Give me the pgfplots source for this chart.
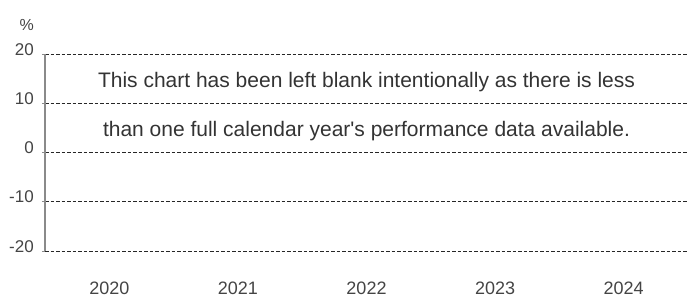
\documentclass[border=0pt]{standalone}
\usepackage{pgfplots}
\pgfplotsset{compat=1.18}
\usepackage{fontspec}
\setmainfont{Liberation Sans}
\definecolor{txt}{HTML}{333333}
\definecolor{tick}{HTML}{444444}
\definecolor{axgray}{HTML}{8A8A8A}
\begin{document}
\begin{tikzpicture}[x=1bp,y=1bp]
\useasboundingbox (0,0) rectangle (688,297);
\begin{axis}[
  at={(45bp,46bp)}, anchor=south west,
  scale only axis, width=643bp, height=197bp,
  xmin=-0.5, xmax=4.5, ymin=-20, ymax=20,
  axis lines*=left,
  x axis line style={draw=none},
  y axis line style={draw=axgray, line width=1.6bp},
  xtick={0,1,2,3,4},
  xticklabels={2020,2021,2022,2023,2024},
  ytick={-20,-10,0,10,20},
  major x tick style={draw=none},
  major y tick style={draw=axgray, line width=0.8bp},
  major tick length=3bp,
  tick align=outside,
  ymajorgrids,
  major grid style={dash pattern=on 3.5bp off 2bp, black!85, line width=0.6bp},
  /pgf/number format/assume math mode=true,
  yticklabel style={anchor=base east, inner sep=0pt, xshift=-8bp, yshift=-1bp, font=\fontsize{17bp}{19bp}\selectfont, text=tick},
  xticklabel style={anchor=base, inner sep=0pt, yshift=-40.5bp, font=\fontsize{18bp}{20bp}\selectfont, text=tick},
  clip=false,
]
\node[anchor=base, inner sep=0pt, text=txt, font=\fontsize{21bp}{24bp}\selectfont] at (axis cs:2,13.27) {This chart has been left blank intentionally as there is less};
\node[anchor=base, inner sep=0pt, text=txt, font=\fontsize{21bp}{24bp}\selectfont] at (axis cs:2,3.27) {than one full calendar year\textquotesingle s performance data available.};
\node[anchor=base east, inner sep=0pt, text=tick, font=\fontsize{16bp}{18bp}\selectfont] at ([xshift=-11bp,yshift=24bp]rel axis cs:0,1) {\%};
\end{axis}
\end{tikzpicture}
\end{document}
